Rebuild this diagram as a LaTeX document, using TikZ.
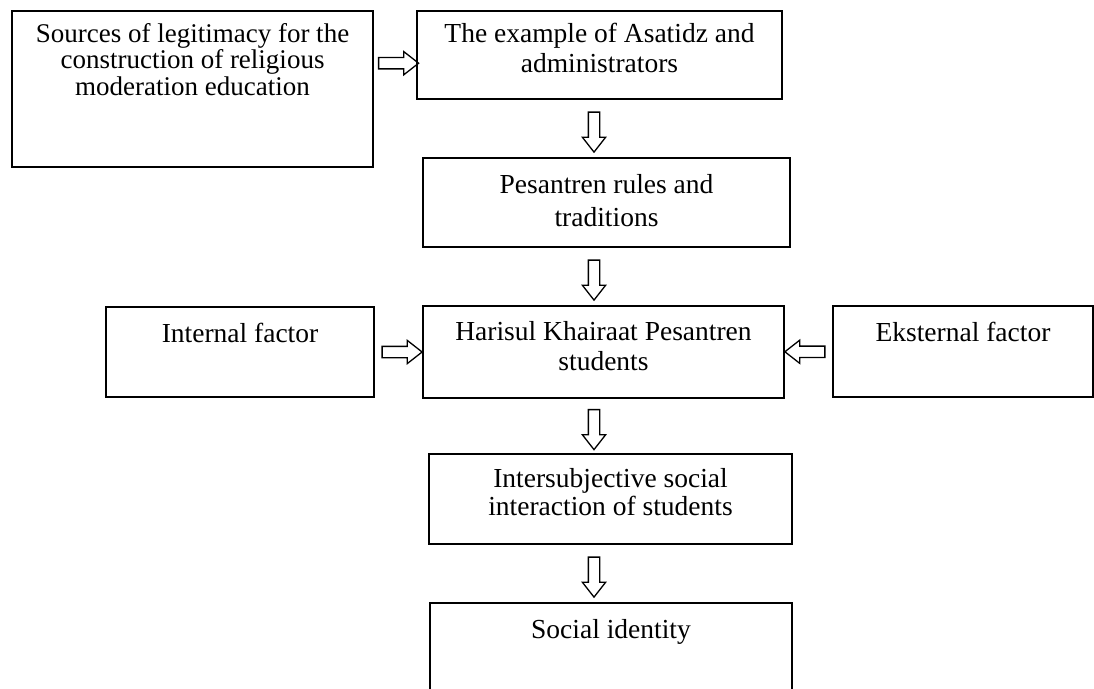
\documentclass[tikz,border=0pt]{standalone}
\usepackage{fontspec}
\setmainfont{Liberation Serif}
\usetikzlibrary{positioning, shapes.arrows, fit, calc}

\tikzset{
    box/.style={draw, line width=1.6pt, inner sep=0pt},
    txt/.style={align=center, inner sep=0pt, font=\fontsize{27.5}{30}\selectfont},
    arr/.style={single arrow, draw, line width=1.3pt, inner sep=5pt,
        single arrow head extend=6pt, single arrow tip angle=76, minimum height=40pt}
}

\begin{document}
\begin{tikzpicture}[x=1pt, y=-1pt]
    \useasboundingbox (0,0) rectangle (1094,688);

    % Boxes
    \node[box, fit={(12,11) (373,167)}] (src) {};
    \node[box, fit={(417,11) (782,99)}] (asa) {};
    \node[box, fit={(423,158) (790,247)}] (pes) {};
    \node[box, fit={(106,307) (374,397)}] (int) {};
    \node[box, fit={(423,306) (784,398)}] (har) {};
    \node[box, fit={(833,306) (1093,397)}] (eks) {};
    \node[box, fit={(429,454) (792,544)}] (soc) {};
    \node[box, fit={(430,603) (792,720)}] (ide) {};

    % Texts
    \node[txt, font=\fontsize{27}{26.5}\selectfont, below=13pt of src.north] (srcT) {Sources of legitimacy for the\\construction of religious\\moderation education};
    \node[txt, below=13pt of asa.north] (asaT) {The example of Asatidz and\\administrators};
    \node[txt, font=\fontsize{27.5}{33}\selectfont, below=17pt of pes.north] (pesT) {Pesantren rules and\\traditions};
    \node[txt, below=17pt of int.north] (intT) {Internal factor};
    \node[txt, below=16pt of har.north] (harT) {Harisul Khairaat Pesantren\\students};
    \node[txt, below=17pt of eks.north] (eksT) {Eksternal factor};
    \node[txt, font=\fontsize{27.5}{28}\selectfont, below=15pt of soc.north] (socT) {Intersubjective social\\interaction of students};
    \node[txt, below=17pt of ide.north] (ideT) {Social identity};

    % Arrows
    \node[arr] (a1) at ($(src.north east)!0.5!(asa.north west)+(0,53)$) {};
    \node[arr] (a2) at ($(int.east)!0.5!(har.west)$) {};
    \node[arr, rotate=180] (a3) at ($(har.east)!0.5!(eks.west)$) {};

    \coordinate (col) at (594,0);
    \foreach \a/\b [count=\i] in {asa/pes, pes/har, har/soc, soc/ide} {
        \path (\a.south) -- (\b.north) coordinate[pos=0.5] (m\i);
        \node[arr, rotate=-90] (v\i) at (m\i -| col) {};
    }
\end{tikzpicture}
\end{document}
